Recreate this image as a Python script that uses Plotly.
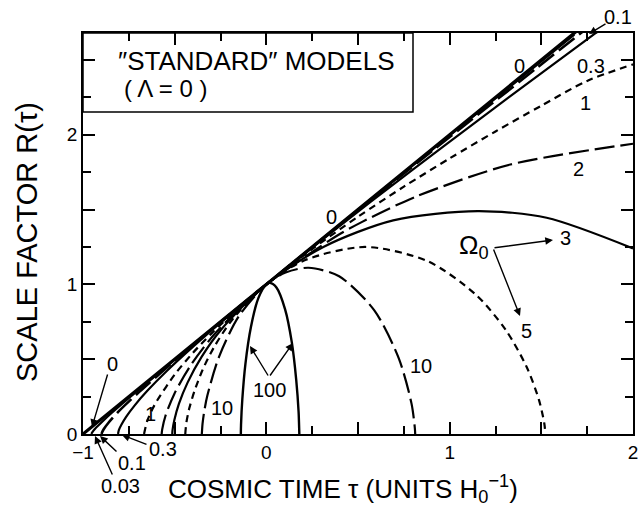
import plotly.graph_objects as go

# ---- data ----
omega_labels = ["0", "0.03", "0.1", "0.3", "1", "2", "3", "5", "10", "100"]

tau_0 = [-1.0, 0.0, 1.0, 2.0]
R_0 = [0.0, 1.0, 2.0, 3.0]

tau_003 = [-0.954, -0.951, -0.944, -0.928, -0.898, -0.844, -0.749, -0.588, -0.318, 0.0, 0.387, 0.880, 1.680]
R_003 = [0.0, 0.008, 0.021, 0.043, 0.079, 0.140, 0.241, 0.407, 0.681, 1.0, 1.386, 1.877, 2.669]

tau_01 = [-0.898, -0.897, -0.888, -0.861, -0.803, -0.690, -0.487, -0.298, 0.0, 0.466, 0.905, 1.474, 1.745]
R_01 = [0.0, 0.007, 0.030, 0.075, 0.154, 0.285, 0.504, 0.699, 1.0, 1.462, 1.892, 2.445, 2.708]

tau_03 = [-0.809, -0.808, -0.804, -0.790, -0.764, -0.719, -0.648, -0.543, -0.392, -0.231, 0.0, 0.240, 0.572, 0.988, 1.508, 1.813]
R_03 = [0.0, 0.007, 0.027, 0.063, 0.116, 0.190, 0.290, 0.421, 0.592, 0.765, 1.0, 1.236, 1.554, 1.943, 2.419, 2.695]

tau_1 = [-0.667, -0.65, -0.62, -0.6, -0.5, -0.4, -0.3, -0.2, -0.1, 0.0, 0.25, 0.5, 0.75, 1.0, 1.25, 1.5, 1.75, 2.0]
R_1 = [0.0, 0.086, 0.170, 0.215, 0.397, 0.543, 0.671, 0.788, 0.897, 1.0, 1.236, 1.452, 1.653, 1.842, 2.022, 2.194, 2.360, 2.470]

tau_2 = [-0.571, -0.568, -0.550, -0.502, -0.412, -0.270, 0.0, 0.383, 0.520, 0.821, 1.331, 2.0]
R_2 = [0.0, 0.031, 0.122, 0.268, 0.460, 0.685, 1.0, 1.323, 1.416, 1.589, 1.801, 1.940]

tau_3 = [-0.513, -0.512, -0.502, -0.477, -0.429, -0.354, -0.247, 0.0, 0.311, 0.692, 1.153, 1.529, 2.0]
R_3 = [0.0, 0.023, 0.092, 0.201, 0.345, 0.514, 0.697, 1.0, 1.250, 1.428, 1.490, 1.445, 1.240]

tau_5 = [-0.442, -0.441, -0.436, -0.421, -0.392, -0.348, -0.285, -0.184, 0.0, 0.209, 0.540, 0.880, 1.143, 1.306, 1.420, 1.487, 1.516, 1.522]
R_5 = [0.0, 0.019, 0.077, 0.168, 0.287, 0.428, 0.581, 0.767, 1.0, 1.161, 1.250, 1.155, 0.931, 0.695, 0.448, 0.228, 0.072, 0.0]

tau_10 = [-0.352, -0.351, -0.348, -0.339, -0.322, -0.258, -0.150, 0.0, 0.105, 0.230, 0.397, 0.588, 0.722, 0.792, 0.810, 0.812]
R_10 = [0.0, 0.017, 0.068, 0.149, 0.255, 0.516, 0.787, 1.0, 1.079, 1.111, 1.054, 0.828, 0.507, 0.203, 0.040, 0.0]

tau_100 = [-0.139, -0.138, -0.131, -0.114, -0.084, -0.043, 0.0, 0.020, 0.056, 0.102, 0.139, 0.163, 0.176, 0.1795, 0.180]
R_100 = [0.0, 0.062, 0.232, 0.469, 0.715, 0.910, 1.0, 1.010, 0.978, 0.835, 0.612, 0.362, 0.147, 0.020, 0.0]

x_tick_vals = [-1.0, -0.5, 0.0, 0.5, 1.0, 1.5, 2.0]
x_tick_text = ["\u22121", "", "0", "", "1", "", "2"]
y_tick_vals = [0.0, 0.5, 1.0, 1.5, 2.0, 2.5]
y_tick_text = ["0", "", "1", "", "2", ""]

# ---- styles ----
FONT = "Liberation Sans, Arial, Helvetica, sans-serif"
SHORT = "7px,5px"
LONG = "20px,6px"

series = [
    (tau_0, R_0, 3.2, "solid"),
    (tau_003, R_003, 2.2, "solid"),
    (tau_01, R_01, 2.6, LONG),
    (tau_03, R_03, 2.2, "solid"),
    (tau_1, R_1, 2.2, SHORT),
    (tau_2, R_2, 2.2, LONG),
    (tau_3, R_3, 2.2, "solid"),
    (tau_5, R_5, 2.2, SHORT),
    (tau_10, R_10, 2.2, LONG),
    (tau_100, R_100, 2.4, "solid"),
]

fig = go.Figure()
for (xs, ys, w, d), name in zip(series, omega_labels):
    fig.add_trace(go.Scatter(
        x=xs, y=ys, mode="lines", name=name,
        line=dict(color="black", width=w, dash=d, shape="spline", smoothing=0.8),
        showlegend=False, hoverinfo="skip",
    ))

W, H = 642, 506
# plot area in page pixels
L, R, T, B = 83, 633, 33, 434

def px(x):
    return (x - L) / (R - L)

def py(y):
    return (B - y) / (B - T)

annos = []

def label(x, y, text, size=20):
    annos.append(dict(xref="paper", yref="paper", x=px(x), y=py(y), text=text,
                      showarrow=False, font=dict(size=size, color="black", family=FONT),
                      xanchor="center", yanchor="middle"))

def arrow(tx, ty, hx, hy):
    annos.append(dict(xref="paper", yref="paper", x=px(hx), y=py(hy), text="",
                      showarrow=True, arrowhead=2, arrowsize=1.1, arrowwidth=1.4,
                      arrowcolor="black", ax=tx - hx, ay=ty - hy, standoff=0))

# curve labels
label(618, 17, "0.1")
arrow(607, 23, 589, 34)
label(519, 66, "0")
label(591, 66, "0.3")
label(585, 103, "1")
label(578, 169, "2")
label(331, 217, "0")
label(474, 246, "\u03a9<sub>0</sub>", size=26)
arrow(493, 248, 553, 240)
label(565, 238, "3")
arrow(493, 248, 520, 316)
label(526, 331, "5")
label(421, 366, "10")
label(222, 408, "10")
label(150, 414, "1")
label(269, 390, "100")
arrow(269, 377, 250, 346)
arrow(269, 377, 293, 343)
label(112, 364, "0")
arrow(108, 373, 92, 427)
label(163, 449, "0.3")
arrow(148, 445, 122, 435)
label(132, 463, "0.1")
arrow(118, 453, 100, 436)
label(120, 486, "0.03")
arrow(113, 476, 95, 436)

# model box text
label(256, 61, "\u2033STANDARD\u2033 MODELS", size=26)
label(165, 89, "( \u039b = 0 )", size=24)

# axis titles
label(343, 489, "COSMIC TIME \u03c4 (UNITS H<sub>0</sub><sup>\u22121</sup>)", size=26)
annos.append(dict(xref="paper", yref="paper", x=px(27), y=py(242),
                  text="SCALE FACTOR R(\u03c4)", textangle=-90,
                  showarrow=False, font=dict(size=29, color="black", family=FONT),
                  xanchor="center", yanchor="middle"))

axis_common = dict(
    showline=True, linecolor="black", linewidth=1.5, mirror="ticks",
    ticks="inside", ticklen=12, tickwidth=1.5, tickcolor="black",
    showgrid=False, zeroline=False,
    tickfont=dict(size=19, color="black", family=FONT),
    minor=dict(ticks="inside", ticklen=8, tickwidth=1.5, tickcolor="black",
               dtick=0.25, tick0=0, showgrid=False),
)

fig.update_layout(
    width=W, height=H,
    margin=dict(l=L, r=W - R, t=T, b=H - B, autoexpand=False),
    paper_bgcolor="white", plot_bgcolor="white",
    xaxis=dict(range=[-1, 2], tickmode="array", tickvals=x_tick_vals, ticktext=x_tick_text, **axis_common),
    yaxis=dict(range=[0, 2.68], tickmode="array", tickvals=y_tick_vals, ticktext=y_tick_text, **axis_common),
    annotations=annos,
    shapes=[dict(type="rect", xref="paper", yref="paper", x0=0, x1=px(413), y0=py(112), y1=1,
                 line=dict(color="black", width=1.5), fillcolor="rgba(0,0,0,0)")],
    font=dict(family=FONT, color="black"),
)

# remove the browser's default 8px page margin so the figure fills the window
fig.write_html("out.html",
               config={"displayModeBar": False},
               post_script="document.body.style.margin='0';document.body.style.overflow='hidden';")
